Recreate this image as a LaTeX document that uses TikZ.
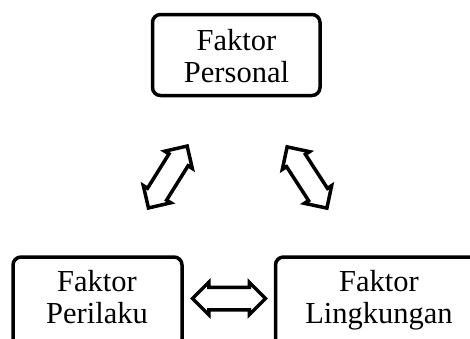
\documentclass[tikz,border=0pt]{standalone}
\usepackage{fontspec}
\setmainfont{Liberation Serif}
\usetikzlibrary{shapes.arrows}
\begin{document}
\begin{tikzpicture}[x=1pt,y=-1pt,
  box/.style={draw, line width=3.5pt, rounded corners=8pt, inner sep=0pt},
  lbl/.style={align=center, inner sep=0pt, font=\fontsize{30.5}{31.5}\selectfont},
  dblarrow/.style={double arrow, draw, line width=3.5pt, fill=white, inner sep=0pt,
    text height=9.5pt, text depth=9.5pt, text width=0pt,
    double arrow head extend=5pt, minimum height=73pt, double arrow tip angle=90}]
\useasboundingbox (0,0) rectangle (470,338);
\clip (0,0) rectangle (470,338);
\node[box, minimum width=167.5pt, minimum height=81pt] (personal) at (236.25,55) {};
\node[box, minimum width=169pt, minimum height=90pt] (perilaku) at (97.5,302) {};
\node[box, minimum width=207pt, minimum height=90pt] (lingkungan) at (379,302) {};
\node[lbl, anchor=base] (tpersonal) at (236.5,82) {Faktor\\Personal};
\node[lbl, anchor=base] (tperilaku) at (97,323) {Faktor\\Perilaku};
\node[lbl, anchor=base] (tlingkungan) at (379,323) {Faktor\\Lingkungan};
\node[dblarrow, rotate=58] (a1) at (167.8,177) {};
\node[dblarrow, rotate=-57] (a2) at (307,177.5) {};
\node[dblarrow] (a3) at (229,298.5) {};
\end{tikzpicture}
\end{document}
